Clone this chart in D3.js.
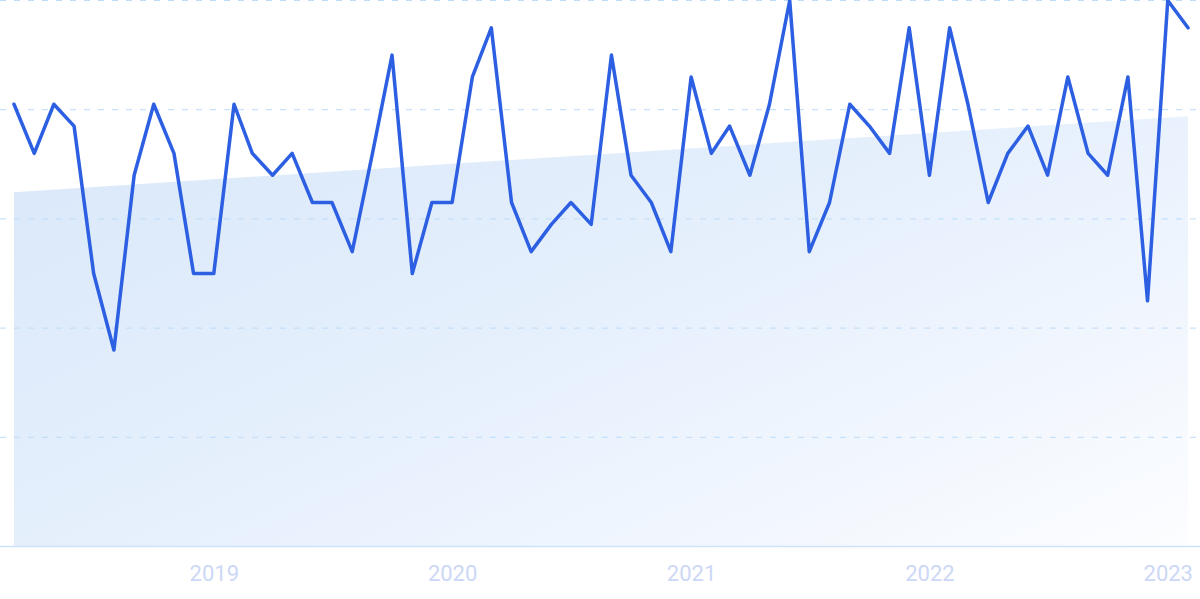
<!DOCTYPE html>
<html>
<head>
<meta charset="utf-8">
<script src="https://cdn.jsdelivr.net/npm/d3@7"></script>
<style>
  html, body { margin: 0; padding: 0; background: #ffffff; }
  svg { display: block; }
</style>
</head>
<body>
<svg id="chart" width="1200" height="599"></svg>
<script>
const months = [
  "2018-03","2018-04","2018-05","2018-06","2018-07","2018-08","2018-09","2018-10","2018-11","2018-12",
  "2019-01","2019-02","2019-03","2019-04","2019-05","2019-06","2019-07","2019-08","2019-09","2019-10",
  "2019-11","2019-12","2020-01","2020-02","2020-03","2020-04","2020-05","2020-06","2020-07","2020-08",
  "2020-09","2020-10","2020-11","2020-12","2021-01","2021-02","2021-03","2021-04","2021-05","2021-06",
  "2021-07","2021-08","2021-09","2021-10","2021-11","2021-12","2022-01","2022-02","2022-03","2022-04",
  "2022-05","2022-06","2022-07","2022-08","2022-09","2022-10","2022-11","2022-12","2023-01","2023-02"
];
const values = [
  81,72,81,77,50,36,68,81,72,50,
  50,81,72,68,72,63,63,54,72,90,
  50,63,63,86,95,63,54,59,63,59,
  90,68,63,54,86,72,77,68,81,100,
  54,63,81,77,72,95,68,95,81,63,
  72,77,68,86,72,68,86,45,100,95
];
const trendValues = [64.9, 78.8];
const yTicks = [0, 20, 40, 60, 80, 100];
const xTickLabels = ["2019", "2020", "2021", "2022", "2023"];

const W = 1200, H = 599;
const parse = d3.timeParse("%Y-%m");
const dates = months.map(parse);
const data = dates.map((d, i) => ({ date: d, value: values[i] }));

const x = d3.scaleTime().domain(d3.extent(dates)).range([14, 1188]);
const y = d3.scaleLinear().domain([0, 100]).range([546.5, 0.5]);

const svg = d3.select("#chart");
const defs = svg.append("defs");
const grad = defs.append("linearGradient")
  .attr("id", "areaGrad")
  .attr("x1", "0").attr("y1", "0.2").attr("x2", "1").attr("y2", "1");
grad.append("stop").attr("offset", "0%").attr("stop-color", "#dbe9fa");
grad.append("stop").attr("offset", "50%").attr("stop-color", "#e8f1fd");
grad.append("stop").attr("offset", "100%").attr("stop-color", "#fcfdff");

// trend area
const trendData = [
  { date: dates[0], value: trendValues[0] },
  { date: dates[dates.length - 1], value: trendValues[1] }
];
svg.append("path")
  .datum(trendData)
  .attr("fill", "url(#areaGrad)")
  .attr("d", d3.area().x(d => x(d.date)).y0(y(0)).y1(d => y(d.value)));

// gridlines
const grid = svg.append("g");
grid.selectAll("line.grid")
  .data(yTicks.filter(t => t > 0))
  .join("line")
  .attr("class", "grid")
  .attr("x1", 0).attr("x2", W)
  .attr("y1", d => y(d)).attr("y2", d => y(d))
  .attr("stroke", "#bcdcfa")
  .attr("stroke-width", 1)
  .attr("stroke-dasharray", "6,8");

// baseline
grid.append("line")
  .attr("x1", 0).attr("x2", W)
  .attr("y1", y(0)).attr("y2", y(0))
  .attr("stroke", "#cfe2fb")
  .attr("stroke-width", 1.5);

// x axis labels
const tickDates = xTickLabels.map(t => d3.timeParse("%Y")(t));
const xAxis = d3.axisBottom(x)
  .tickValues(tickDates)
  .tickFormat(d3.timeFormat("%Y"))
  .tickSize(0)
  .tickPadding(0);
const gx = svg.append("g").call(xAxis);
gx.select(".domain").remove();
gx.selectAll("text")
  .attr("y", 581)
  .attr("dy", 0)
  .attr("fill", "#cdd7f6")
  .style("font-family", "Roboto, 'Noto Sans', sans-serif")
  .style("font-size", "22px");

// line
svg.append("path")
  .datum(data)
  .attr("fill", "none")
  .attr("stroke", "#2d5fe2")
  .attr("stroke-width", 3.5)
  .attr("stroke-linejoin", "round")
  .attr("stroke-linecap", "round")
  .attr("d", d3.line().x(d => x(d.date)).y(d => y(d.value)));
</script>
</body>
</html>
